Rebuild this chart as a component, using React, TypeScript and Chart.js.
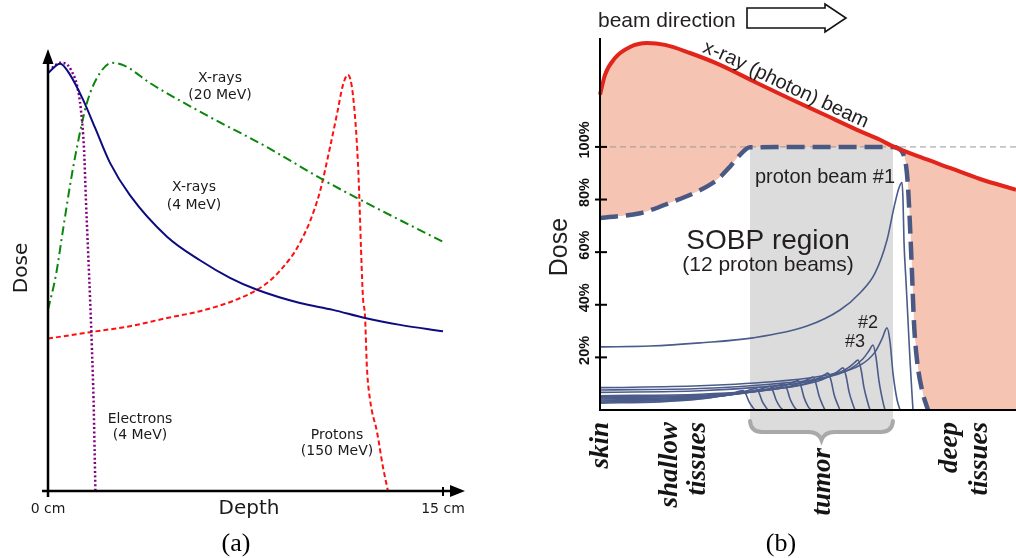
import React, { useEffect, useRef } from 'react';
import { Chart, registerables } from 'chart.js';

Chart.register(...registerables);

// ---------- Panel (a): depth–dose curves (depth in cm, dose relative, 100 = max) ----------
const xray4Depth = [0, 0.46, 0.84, 1.33, 1.79, 2.35, 3.11, 4.52, 5.77, 6.91, 7.94, 9.57, 10.82, 12.04, 13.37, 15];
const xray4Dose = [97.6, 99.8, 97.2, 91.4, 84.8, 76.7, 69.1, 59.4, 53.9, 49.8, 47, 43.9, 42.3, 40.4, 38.8, 37.3];

const electronDepth = [0.15, 0.46, 0.68, 0.91, 1.1, 1.25, 1.37, 1.44, 1.52, 1.6, 1.67, 1.73, 1.77, 1.8];
const electronDose = [98.8, 100, 99.8, 97.9, 94.8, 89, 79.6, 68, 56.3, 44.6, 33, 21.3, 9.5, 0];

const xray20Depth = [0, 0.3, 0.57, 0.84, 1.1, 1.48, 1.97, 2.43, 2.92, 3.87, 5.77, 8.32, 10.44, 11.74, 15];
const xray20Dose = [42.3, 50.4, 61, 71.5, 80.3, 90.7, 97.6, 100, 99.3, 95.3, 88.6, 80.3, 72.7, 68.4, 58.2];

const protonDepth = [0, 1.6, 3.11, 4.52, 5.77, 7.03, 7.94, 8.5, 8.93, 9.3, 9.57, 9.95, 10.33, 10.71, 10.98, 11.2, 11.39, 11.58, 11.77, 11.96, 12.04, 12.11, 12.23, 12.5, 12.72, 12.91];
const protonDose = [35.6, 37.1, 38.5, 40.4, 42, 44.4, 47, 49.5, 52.3, 55.2, 58, 63, 70, 80.3, 88.2, 94.8, 97.2, 92.5, 76.6, 45.3, 40.7, 29, 21.3, 13.6, 5.6, 0];

// ---------- Panel (b): spread-out Bragg peak (depth in arbitrary units, dose in %) ----------
const photonDepth = [0, 5, 15, 30, 47, 65, 90, 120, 157, 190, 223, 257, 280, 293, 320, 350, 380, 416];
const photonDose = [119.8, 127.4, 133.8, 138, 139.5, 138.8, 135.7, 131.2, 124.3, 118.3, 112.5, 106.5, 102.7, 100.2, 96.2, 92, 87.8, 83.7];

const sobpDepth = [0, 40, 73, 97, 117, 130, 140, 150, 293, 299, 303, 306, 308, 310, 312, 314, 317, 322, 328];
const sobpDose = [73, 74.8, 79.2, 83, 87.5, 92.5, 97, 99.9, 100, 99.3, 97.5, 93, 85, 70, 52, 33, 19, 7.6, 0];

const beam1Depth = [0, 50, 100, 153, 207, 240, 260, 275, 287, 294, 299, 302, 303, 304, 306, 308, 310, 312, 313];
const beam1Dose = [24, 24.3, 25.5, 27.4, 31.9, 38, 44.5, 52, 64.6, 77, 84.5, 86.5, 80, 64, 49, 34, 19, 6, 0];

// proton beams #2 … #12
const beamDepths = [
  [0, 100, 180, 230, 260, 275, 282, 287, 290, 293, 297, 300],
  [0, 100, 170, 220, 250, 263, 269, 273, 276, 279, 283, 285],
  [0, 100, 160, 205, 235, 248, 254, 258, 261, 264, 268, 270],
  [0, 100, 150, 195, 222, 234, 239, 243, 246, 249, 253, 255],
  [0, 100, 140, 180, 208, 219, 224, 228, 231, 234, 238, 240],
  [0, 100, 130, 165, 193, 204, 209, 213, 216, 219, 223, 225],
  [0, 90, 120, 150, 178, 189, 194, 198, 201, 204, 208, 211],
  [0, 90, 110, 140, 165, 175, 180, 184, 187, 190, 194, 197],
  [0, 80, 100, 125, 150, 161, 166, 170, 173, 176, 180, 183],
  [0, 70, 90, 115, 137, 147, 152, 156, 159, 162, 166, 168],
  [0, 60, 80, 105, 125, 134, 139, 143, 146, 149, 153, 155],
];
const beamDoses = [
  [8.5, 9.2, 11, 13.5, 17, 22, 27, 31.2, 26, 14, 4, 0],
  [7.6, 8.2, 9.8, 12, 15.5, 19.5, 22.5, 24.7, 20, 11, 3, 0],
  [6.7, 7.3, 8.7, 10.5, 13.5, 16, 17.8, 19, 15.5, 8.5, 2.5, 0],
  [5.4, 6, 7.1, 9, 11.5, 13.8, 15, 16, 13, 7, 2, 0],
  [5, 5.6, 6.6, 8.2, 10.3, 12.2, 13.3, 14, 11.3, 6, 1.8, 0],
  [4.6, 5.3, 6, 7.5, 9.3, 10.9, 11.9, 12.5, 10, 5.4, 1.6, 0],
  [4.2, 4.8, 5.5, 6.8, 8.5, 9.9, 10.7, 11.2, 9, 4.8, 1.4, 0],
  [3.8, 4.5, 5, 6.2, 7.7, 8.9, 9.6, 10, 8, 4.3, 1.3, 0],
  [3.4, 4, 4.5, 5.5, 7, 8, 8.6, 9, 7.2, 3.9, 1.2, 0],
  [3, 3.6, 4, 5, 6.3, 7.3, 7.9, 8.2, 6.6, 3.5, 1, 0],
  [2.6, 3.1, 3.5, 4.4, 5.6, 6.5, 7.1, 7.4, 5.9, 3.2, 0.9, 0],
];

const tumorStart = 150;
const tumorEnd = 293;
const doseTicks = [20, 40, 60, 80, 100];
const tissueLabels = ['skin', 'shallow', 'tissues', 'tumor', 'deep', 'tissues'];
const tissueDepth = [8, 77, 105, 230, 357, 387];
const tissueTop = [422, 422, 422, 448, 422, 422];

const pts = (xs: number[], ys: number[]) => xs.map((x, i) => ({ x, y: ys[i] }));

const SANS_A = '"DejaVu Sans", sans-serif';
const SANS_B = '"Liberation Sans", Arial, sans-serif';
const SERIF = '"Liberation Serif", "Times New Roman", serif';

function line(data: { x: number; y: number }[], color: string, width: number, dash: number[] = []) {
  return {
    data,
    borderColor: color,
    borderWidth: width,
    borderDash: dash,
    pointRadius: 0,
    fill: false,
    clip: false as const,
    cubicInterpolationMode: 'monotone' as const,
  };
}

// ---------- overlay for panel (a): arrows, axis labels, curve names ----------
const panelAOverlay = {
  id: 'panelAOverlay',
  afterDatasetsDraw(chart: any) {
    const { ctx, scales } = chart;
    const x0 = scales.x.getPixelForValue(0);
    const x15 = scales.x.getPixelForValue(15);
    const y0 = scales.y.getPixelForValue(0);
    const yTop = scales.y.getPixelForValue(scales.y.max);
    ctx.save();
    ctx.strokeStyle = '#000';
    ctx.fillStyle = '#000';
    ctx.lineWidth = 2.5;
    ctx.beginPath();
    ctx.moveTo(x0, y0 + 6);
    ctx.lineTo(x0, yTop + 12);
    ctx.stroke();
    ctx.beginPath();
    ctx.moveTo(x0, yTop - 1);
    ctx.lineTo(x0 - 5.5, yTop + 14);
    ctx.lineTo(x0 + 5.5, yTop + 14);
    ctx.closePath();
    ctx.fill();
    ctx.beginPath();
    ctx.moveTo(x0 - 6, y0);
    ctx.lineTo(x15 + 10, y0);
    ctx.stroke();
    ctx.beginPath();
    ctx.moveTo(x15 + 22, y0);
    ctx.lineTo(x15 + 7, y0 - 6);
    ctx.lineTo(x15 + 7, y0 + 6);
    ctx.closePath();
    ctx.fill();
    ctx.lineWidth = 2;
    ctx.beginPath();
    ctx.moveTo(x15, y0 - 4);
    ctx.lineTo(x15, y0 + 5);
    ctx.stroke();

    ctx.fillStyle = '#1a1a1a';
    ctx.textAlign = 'center';
    ctx.textBaseline = 'alphabetic';
    ctx.font = `14px ${SANS_A}`;
    ctx.fillText('0 cm', x0, 513);
    ctx.fillText('15 cm', x15, 513);
    ctx.fillText('X-rays', 220, 82);
    ctx.fillText('(20 MeV)', 220, 99);
    ctx.fillText('X-rays', 194, 191);
    ctx.fillText('(4 MeV)', 194, 209);
    ctx.fillText('Electrons', 140, 423);
    ctx.fillText('(4 MeV)', 140, 439);
    ctx.fillText('Protons', 337, 439);
    ctx.fillText('(150 MeV)', 337, 455);

    ctx.font = `20px ${SANS_A}`;
    ctx.fillText('Depth', 249, 514);
    ctx.save();
    ctx.translate(27, 268);
    ctx.rotate(-Math.PI / 2);
    ctx.fillText('Dose', 0, 0);
    ctx.restore();

    ctx.fillStyle = '#000';
    ctx.font = `26px ${SERIF}`;
    ctx.fillText('(a)', 236, 551);
    ctx.restore();
  },
};

// ---------- helpers for panel (b) ----------
function sampleCurve(points: any[]) {
  const out: { x: number; y: number }[] = [];
  for (let i = 0; i < points.length - 1; i++) {
    const a = points[i];
    const b = points[i + 1];
    const c1x = a.cp2x ?? a.x, c1y = a.cp2y ?? a.y;
    const c2x = b.cp1x ?? b.x, c2y = b.cp1y ?? b.y;
    for (let k = 0; k < 16; k++) {
      const t = k / 16;
      const m = 1 - t;
      out.push({
        x: m * m * m * a.x + 3 * m * m * t * c1x + 3 * m * t * t * c2x + t * t * t * b.x,
        y: m * m * m * a.y + 3 * m * m * t * c1y + 3 * m * t * t * c2y + t * t * t * b.y,
      });
    }
  }
  const last = points[points.length - 1];
  out.push({ x: last.x, y: last.y });
  return out;
}

function textAlongCurve(ctx: CanvasRenderingContext2D, path: { x: number; y: number }[], text: string, startX: number, lift: number) {
  const cum = [0];
  for (let i = 1; i < path.length; i++) {
    cum.push(cum[i - 1] + Math.hypot(path[i].x - path[i - 1].x, path[i].y - path[i - 1].y));
  }
  const at = (s: number) => {
    let i = 0;
    while (i < path.length - 2 && cum[i + 1] < s) i++;
    const seg = cum[i + 1] - cum[i] || 1;
    const t = (s - cum[i]) / seg;
    const a = path[i], b = path[i + 1];
    return { x: a.x + (b.x - a.x) * t, y: a.y + (b.y - a.y) * t };
  };
  let s = 0;
  for (let i = 0; i < path.length - 1; i++) {
    if (path[i + 1].x >= startX) {
      const t = (startX - path[i].x) / (path[i + 1].x - path[i].x || 1);
      s = cum[i] + (cum[i + 1] - cum[i]) * t;
      break;
    }
  }
  ctx.textAlign = 'center';
  ctx.textBaseline = 'alphabetic';
  for (const ch of text) {
    const w = ctx.measureText(ch).width;
    const p = at(s + w / 2);
    const q1 = at(s);
    const q2 = at(s + w);
    const ang = Math.atan2(q2.y - q1.y, q2.x - q1.x);
    ctx.save();
    ctx.translate(p.x + Math.sin(ang) * lift, p.y - Math.cos(ang) * lift);
    ctx.rotate(ang);
    ctx.fillText(ch, 0, 0);
    ctx.restore();
    s += w;
  }
}

const PINK = 'rgb(246,196,178)';
const SOBP_BLUE = 'rgb(74,88,132)';
const BEAM_BLUE = 'rgb(76,92,138)';
const TEXT_DARK = '#231f20';

const panelBUnderlay = {
  id: 'panelBUnderlay',
  beforeDatasetsDraw(chart: any) {
    const { ctx, scales, chartArea } = chart;
    const xl = scales.x.getPixelForValue(tumorStart);
    const xr = scales.x.getPixelForValue(tumorEnd);
    const yTop = scales.y.getPixelForValue(100);
    const yb = scales.y.getPixelForValue(0);
    const mid = (xl + xr) / 2;
    const bTop = yb + 11, bLine = yb + 22, bTip = yb + 30;
    // curly brace under the tumour band, traced left to right
    const brace = (c: CanvasRenderingContext2D) => {
      c.quadraticCurveTo(xl + 1, bLine, xl + 12, bLine);
      c.lineTo(mid - 13, bLine);
      c.quadraticCurveTo(mid - 3, bLine, mid, bTip);
      c.quadraticCurveTo(mid + 3, bLine, mid + 13, bLine);
      c.lineTo(xr - 12, bLine);
      c.quadraticCurveTo(xr - 1, bLine, xr, bTop);
    };
    ctx.save();
    ctx.beginPath();
    ctx.moveTo(xl, yTop);
    ctx.lineTo(xl, bTop);
    brace(ctx);
    ctx.lineTo(xr, yTop);
    ctx.closePath();
    ctx.fillStyle = '#dcdcdc';
    ctx.fill();
    ctx.beginPath();
    ctx.moveTo(xl, bTop);
    brace(ctx);
    ctx.strokeStyle = '#a9a9a9';
    ctx.lineWidth = 4;
    ctx.lineCap = 'round';
    ctx.stroke();

    ctx.beginPath();
    ctx.setLineDash([6, 4]);
    ctx.lineCap = 'butt';
    ctx.moveTo(chartArea.left, yTop);
    ctx.lineTo(chartArea.right, yTop);
    ctx.strokeStyle = '#999';
    ctx.lineWidth = 1;
    ctx.stroke();
    ctx.restore();
  },
  afterDatasetsDraw(chart: any) {
    const { ctx, scales, chartArea } = chart;
    const { left, right, top, bottom } = chartArea;
    ctx.save();
    // axes
    ctx.strokeStyle = '#000';
    ctx.lineWidth = 2;
    ctx.beginPath();
    ctx.moveTo(left, top);
    ctx.lineTo(left, bottom + 1);
    ctx.moveTo(left - 1, bottom);
    ctx.lineTo(right, bottom);
    ctx.stroke();
    // y ticks with rotated labels
    ctx.fillStyle = '#111';
    ctx.font = `bold 14.5px ${SANS_B}`;
    ctx.textAlign = 'center';
    ctx.textBaseline = 'alphabetic';
    for (const v of doseTicks) {
      const py = scales.y.getPixelForValue(v);
      ctx.beginPath();
      ctx.moveTo(left - 5, py);
      ctx.lineTo(left + 7, py);
      ctx.stroke();
      ctx.save();
      ctx.translate(left - 11, py - 7);
      ctx.rotate(-Math.PI / 2);
      ctx.fillText(`${v}%`, 0, 0);
      ctx.restore();
    }
    // axis title
    ctx.fillStyle = TEXT_DARK;
    ctx.font = `25px ${SANS_B}`;
    ctx.save();
    ctx.translate(27, 247);
    ctx.rotate(-Math.PI / 2);
    ctx.fillText('Dose', 0, 0);
    ctx.restore();

    // beam direction
    ctx.font = `21px ${SANS_B}`;
    ctx.textAlign = 'left';
    ctx.fillText('beam direction', 58, 27);
    ctx.beginPath();
    ctx.moveTo(207, 8);
    ctx.lineTo(285, 8);
    ctx.lineTo(285, 4);
    ctx.lineTo(306, 18);
    ctx.lineTo(285, 32);
    ctx.lineTo(285, 28);
    ctx.lineTo(207, 28);
    ctx.closePath();
    ctx.fillStyle = '#fff';
    ctx.fill();
    ctx.strokeStyle = '#111';
    ctx.lineWidth = 1.6;
    ctx.lineJoin = 'miter';
    ctx.stroke();

    // curve label riding on the photon curve
    ctx.fillStyle = TEXT_DARK;
    ctx.font = `20px ${SANS_B}`;
    const redPath = sampleCurve(chart.getDatasetMeta(0).data);
    textAlongCurve(ctx, redPath, 'x-ray (photon) beam', 160, 5);

    // annotations
    ctx.textAlign = 'center';
    ctx.font = `20px ${SANS_B}`;
    ctx.fillText('proton beam #1', 285, 183);
    ctx.font = `28px ${SANS_B}`;
    ctx.fillText('SOBP region', 228, 249);
    ctx.font = `21px ${SANS_B}`;
    ctx.fillText('(12 proton beams)', 228, 271);
    ctx.font = `18px ${SANS_B}`;
    ctx.fillText('#2', 328, 328);
    ctx.fillText('#3', 315, 347);

    // tissue labels under the depth axis
    ctx.font = `bold italic 27px ${SERIF}`;
    ctx.fillStyle = '#151515';
    ctx.textAlign = 'right';
    tissueLabels.forEach((t, i) => {
      ctx.save();
      ctx.translate(scales.x.getPixelForValue(tissueDepth[i]), tissueTop[i]);
      ctx.rotate(-Math.PI / 2);
      ctx.fillText(t, 0, 0);
      ctx.restore();
    });

    ctx.textAlign = 'center';
    ctx.fillStyle = '#000';
    ctx.font = `26px ${SERIF}`;
    ctx.fillText('(b)', 241, 551);
    ctx.restore();
  },
};

function PanelA() {
  const ref = useRef<HTMLCanvasElement>(null);
  useEffect(() => {
    const chart = new Chart(ref.current as HTMLCanvasElement, {
      type: 'line',
      data: {
        datasets: [
          line(pts(xray4Depth, xray4Dose), '#0c0c80', 2),
          line(pts(electronDepth, electronDose), '#800080', 2.5, [2, 2.4]),
          line(pts(xray20Depth, xray20Dose), '#0a870a', 2, [9, 4, 2, 4]),
          line(pts(protonDepth, protonDose), '#ff1010', 2, [5, 3]),
        ] as any,
      },
      options: {
        responsive: false,
        animation: false,
        devicePixelRatio: 1,
        layout: { padding: { left: 48, right: 97, top: 50, bottom: 67 } },
        scales: {
          x: { type: 'linear', min: 0, max: 15, display: false },
          y: { type: 'linear', min: 0, max: 103, display: false },
        },
        plugins: { legend: { display: false }, tooltip: { enabled: false } },
        events: [],
      },
      plugins: [panelAOverlay],
    });
    return () => chart.destroy();
  }, []);
  return <canvas ref={ref} width={540} height={558} style={{ position: 'absolute', left: 0, top: 0, width: 540, height: 558 }} />;
}

function PanelB() {
  const ref = useRef<HTMLCanvasElement>(null);
  useEffect(() => {
    const photon = {
      ...line(pts(photonDepth, photonDose), 'rgb(225,37,27)', 4),
      fill: { target: 14, above: PINK, below: 'rgba(0,0,0,0)' },
    };
    const sobp = line(pts(sobpDepth, sobpDose), SOBP_BLUE, 4.5, [18, 8]);
    const beam1 = line(pts(beam1Depth, beam1Dose), BEAM_BLUE, 1.6);
    const others = beamDepths.map((d, i) => line(pts(d, beamDoses[i]), BEAM_BLUE, 1.6));
    const fillTarget = line(pts([...sobpDepth, 416], [...sobpDose, 0]), 'rgba(0,0,0,0)', 0);
    const chart = new Chart(ref.current as HTMLCanvasElement, {
      type: 'line',
      data: { datasets: [photon, sobp, beam1, ...others, fillTarget] as any },
      options: {
        responsive: false,
        animation: false,
        devicePixelRatio: 1,
        layout: { padding: { left: 60, right: 0, top: 38, bottom: 148 } },
        scales: {
          x: { type: 'linear', min: 0, max: 416, display: false },
          y: { type: 'linear', min: 0, max: 141.4, display: false },
        },
        plugins: {
          legend: { display: false },
          tooltip: { enabled: false },
          filler: { drawTime: 'beforeDatasetsDraw' },
        } as any,
        events: [],
      },
      plugins: [panelBUnderlay],
    });
    return () => chart.destroy();
  }, []);
  return <canvas ref={ref} width={476} height={558} style={{ position: 'absolute', left: 540, top: 0, width: 476, height: 558 }} />;
}

export default function App() {
  return (
    <div style={{ position: 'fixed', left: 0, top: 0, width: 1016, height: 558, background: '#fff', overflow: 'hidden' }}>
      <PanelA />
      <PanelB />
    </div>
  );
}
